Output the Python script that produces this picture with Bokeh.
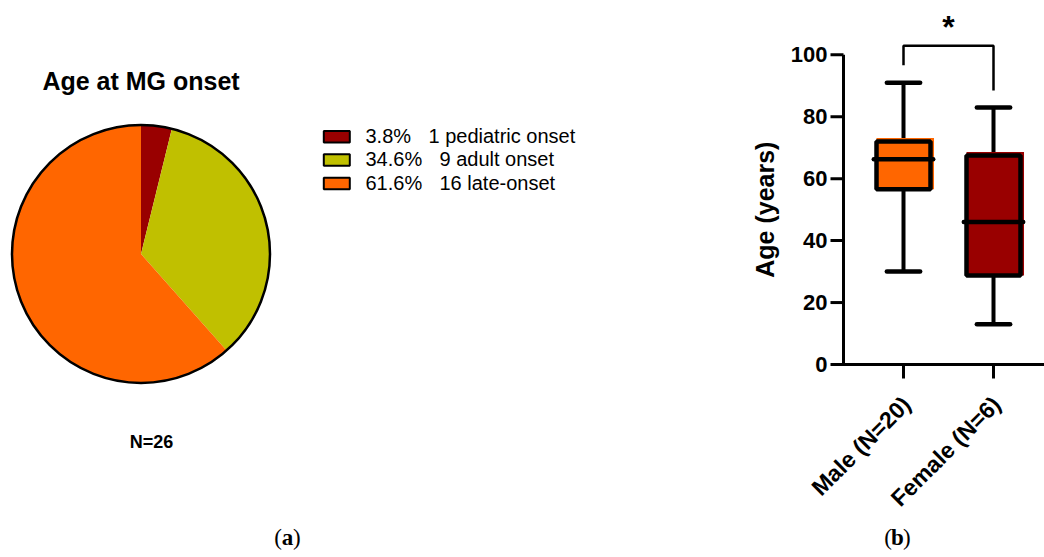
import math
from bokeh.plotting import figure
from bokeh.models import Range1d
from bokeh.layouts import row
from bokeh.embed import file_html
from bokeh.resources import INLINE
from bokeh.core.properties import value

# ---------------- data ----------------
onset_groups = ["pediatric onset", "adult onset", "late-onset"]
onset_counts = [1, 9, 16]
onset_percents = ["3.8%", "34.6%", "61.6%"]
onset_colors = ["#990000", "#C0C000", "#FF6600"]
total_label = "N=26"
pie_title = "Age at MG onset"

sex_groups = ["Male (N=20)", "Female (N=6)"]
whisker_low = [30, 13]
box_q1 = [56.6, 28.7]
box_median = [66.3, 46.0]
box_q3 = [72.0, 67.5]
whisker_high = [91, 83]
box_colors = ["#FF6600", "#990000"]
y_ticks = [0, 20, 40, 60, 80, 100]
y_tick_labels = ["0", "20", "40", "60", "80", "100"]
bracket_top = 102.9
bracket_legs = [96.6, 88.5]
significance = "*"
y_label = "Age (years)"

FONT = "Liberation Sans"
SERIF = "Liberation Serif"

H = 557

# ---------------- left panel (pie) ----------------
W1 = 730
p1 = figure(width=W1, height=H, x_range=Range1d(0, W1), y_range=Range1d(0, H),
            min_border=0, x_axis_location=None, y_axis_location=None,
            toolbar_location=None, output_backend="svg")
p1.outline_line_color = None
p1.grid.visible = False
p1.background_fill_color = "white"


def py(y):
    return H - y


cx, cy, r = 140.5, py(253.5), 129
total = sum(onset_counts)
cum = 0.0
starts, ends = [], []
for c in onset_counts:
    starts.append(math.pi / 2 - 2 * math.pi * cum / total)
    cum += c
    ends.append(math.pi / 2 - 2 * math.pi * cum / total)

p1.wedge(x=[cx] * 3, y=[cy] * 3, radius=r, start_angle=starts, end_angle=ends,
         direction="clock", fill_color=onset_colors, line_color=None)
p1.circle(x=[cx], y=[cy], radius=r, fill_color=None, line_color="black", line_width=2.5)

p1.text(x=[cx], y=[py(80)], text=[pie_title], text_align="center",
        text_baseline="middle", text_font=value(FONT), text_font_style="bold",
        text_font_size="25px", text_color="black")

row_gap = 23.3
count_x = [428, 439, 439]
for i in range(3):
    p1.rect(x=[336.3], y=[py(136.3 + i * row_gap)], width=26, height=11.5,
            fill_color=onset_colors[i], line_color="black", line_width=2)
    p1.text(x=[365], y=[py(135.5 + i * row_gap)], text=[onset_percents[i]],
            text_align="left", text_baseline="middle", text_font=value(FONT),
            text_font_size="20px", text_color="black")
    p1.text(x=[count_x[i]], y=[py(135.5 + i * row_gap)],
            text=[f"{onset_counts[i]} {onset_groups[i]}"],
            text_align="left", text_baseline="middle", text_font=value(FONT),
            text_font_size="20px", text_color="black")

p1.text(x=[151], y=[py(441)], text=[total_label], text_align="center",
        text_baseline="middle", text_font=value(FONT), text_font_style="bold",
        text_font_size="18px", text_color="black")

# (a)
ax_, ay_ = 287, py(537)
p1.text(x=[ax_ - 5.5], y=[ay_], text=["("], text_align="right", text_baseline="middle",
        text_font=value(SERIF), text_font_size="23px", text_color="black")
p1.text(x=[ax_], y=[ay_], text=["a"], text_align="center", text_baseline="middle",
        text_font=value(SERIF), text_font_style="bold", text_font_size="23px", text_color="black")
p1.text(x=[ax_ + 5.5], y=[ay_], text=[")"], text_align="left", text_baseline="middle",
        text_font=value(SERIF), text_font_size="23px", text_color="black")

# ---------------- right panel (box plot) ----------------
W2 = 1044 - W1
ppu = (364 - 54.3) / 100.0   # pixels per year
ppx = 90.0                   # pixels per category step


def X(page_x):
    return 1 + (page_x - 903) / ppx


def Y(page_y):
    return (364 - page_y) / ppu


p2 = figure(width=W2, height=H,
            x_range=Range1d(X(W1), X(1044)), y_range=Range1d(Y(H), Y(0)),
            min_border=0, x_axis_location=None, y_axis_location=None,
            toolbar_location=None, output_backend="svg")
p2.outline_line_color = None
p2.grid.visible = False
p2.background_fill_color = "white"

xs = [1, 2]
bw = 0.6
cap = 0.185
p2.segment(x0=xs, y0=box_q3, x1=xs, y1=whisker_high, line_color="black", line_width=4)
p2.segment(x0=xs, y0=box_q1, x1=xs, y1=whisker_low, line_color="black", line_width=4)
p2.segment(x0=[x - cap for x in xs], y0=whisker_high, x1=[x + cap for x in xs], y1=whisker_high,
           line_color="black", line_width=4.5, line_cap="round")
p2.segment(x0=[x - cap for x in xs], y0=whisker_low, x1=[x + cap for x in xs], y1=whisker_low,
           line_color="black", line_width=4.5, line_cap="round")
p2.quad(left=[x - bw / 2 for x in xs], right=[x + bw / 2 + 0.039 for x in xs],
        bottom=box_q1, top=[q + 1.1 for q in box_q3], fill_color=box_colors, line_color=None)
p2.quad(left=[x - bw / 2 for x in xs], right=[x + bw / 2 for x in xs],
        bottom=box_q1, top=box_q3, fill_color=None, line_color="black", line_width=4.5)
p2.segment(x0=[x - 0.33 for x in xs], y0=box_median, x1=[x + 0.33 for x in xs], y1=box_median,
           line_color="black", line_width=4.5, line_cap="round")

# significance bracket
p2.line(x=[1, 1, 2, 2], y=[bracket_legs[0], bracket_top, bracket_top, bracket_legs[1]],
        line_color="black", line_width=2.5)
p2.text(x=[1.5], y=[Y(26)], text=[significance], text_align="center", text_baseline="middle",
        text_font=value(FONT), text_font_style="bold", text_font_size="32px", text_color="black")

# y axis (drawn from the tick values)
yx = X(843)
p2.segment(x0=[yx], y0=[y_ticks[0]], x1=[yx], y1=[y_ticks[-1]], line_color="black", line_width=3)
p2.segment(x0=[X(830)] * len(y_ticks), y0=y_ticks, x1=[yx] * len(y_ticks), y1=y_ticks,
           line_color="black", line_width=3)
p2.text(x=[X(827)] * len(y_ticks), y=y_ticks, text=y_tick_labels, text_align="right",
        text_baseline="middle", text_font=value(FONT), text_font_style="bold",
        text_font_size="22px", text_color="black")
p2.text(x=[X(764)], y=[(y_ticks[0] + y_ticks[-1]) / 2], text=[y_label], angle=math.pi / 2,
        text_align="center", text_baseline="middle", text_font=value(FONT),
        text_font_style="bold", text_font_size="25px", text_color="black")

# x axis at y = 0
p2.segment(x0=[X(833)], y0=[0], x1=[X(1044)], y1=[0], line_color="black", line_width=3)
p2.segment(x0=xs, y0=[0, 0], x1=xs, y1=[Y(378)] * 2, line_color="black", line_width=3)
p2.text(x=[x + 3 / ppx for x in xs], y=[Y(400)] * 2, text=sex_groups, angle=math.pi / 4,
        text_align="right", text_baseline="middle", text_font=value(FONT),
        text_font_style="bold", text_font_size="23px", text_color="black")

# (b)
bx, by = X(897), Y(537)
p2.text(x=[bx - 5.5 / ppx], y=[by], text=["("], text_align="right", text_baseline="middle",
        text_font=value(SERIF), text_font_size="23px", text_color="black")
p2.text(x=[bx], y=[by], text=["b"], text_align="center", text_baseline="middle",
        text_font=value(SERIF), text_font_style="bold", text_font_size="23px", text_color="black")
p2.text(x=[bx + 5.5 / ppx], y=[by], text=[")"], text_align="left", text_baseline="middle",
        text_font=value(SERIF), text_font_size="23px", text_color="black")

layout = row(p1, p2)
open("out.html", "w").write(file_html(layout, INLINE))
